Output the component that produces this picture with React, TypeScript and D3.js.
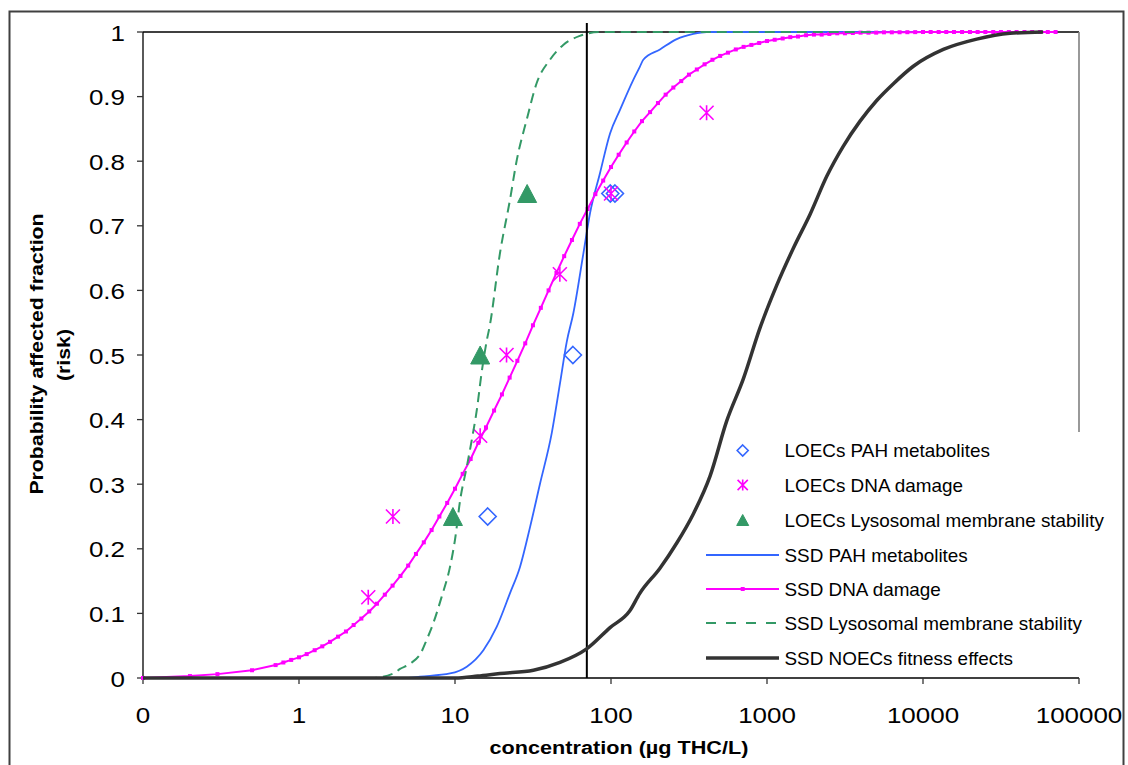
import React from 'react';
import * as d3 from 'd3';

// ---------- data ----------
const xTickValues = [0.1, 1, 10, 100, 1000, 10000, 100000];
const xTickLabels = ['0', '1', '10', '100', '1000', '10000', '100000'];
const yTickValues = [0, 0.1, 0.2, 0.3, 0.4, 0.5, 0.6, 0.7, 0.8, 0.9, 1];
const yTickLabels = ['0', '0.1', '0.2', '0.3', '0.4', '0.5', '0.6', '0.7', '0.8', '0.9', '1'];

const loecPah: [number, number][] = [[16.2, 0.25], [57, 0.5], [99, 0.75], [106, 0.75]];
const loecDna: [number, number][] = [[2.78, 0.125], [4.0, 0.25], [14.5, 0.375], [21.4, 0.5], [47, 0.625], [100, 0.75], [410, 0.875]];
const loecLyso: [number, number][] = [[9.7, 0.25], [14.5, 0.5], [29, 0.75]];

const ssdPah: [number, number][] = [
  [0.1, 0], [5, 0], [5.97, 0.002], [9.29, 0.007], [11.9, 0.0175], [15.2, 0.043], [18.5, 0.079],
  [22.5, 0.131], [26.1, 0.172], [30.3, 0.234], [35.1, 0.301], [41.7, 0.379], [47.1, 0.456],
  [52, 0.52], [57.4, 0.565], [66.5, 0.657], [73.3, 0.719], [84.9, 0.781], [98.6, 0.843],
  [114, 0.879], [139, 0.926], [153, 0.946], [161, 0.957], [206, 0.973], [264, 0.989],
  [337, 0.997], [410, 1], [10000, 1],
];

const ssdDna: [number, number][] = [
  [0.1, 0], [0.2, 0.003], [0.3, 0.006], [0.5, 0.012], [0.708, 0.02], [0.794, 0.024], [0.891, 0.028],
  [1, 0.032], [1.12, 0.037], [1.26, 0.043], [1.41, 0.049], [1.58, 0.056], [1.78, 0.064], [2, 0.072],
  [2.24, 0.082], [2.51, 0.092], [2.82, 0.103], [3.16, 0.115], [3.55, 0.129], [3.98, 0.143],
  [4.47, 0.158], [5.01, 0.174], [5.62, 0.192], [6.31, 0.21], [7.08, 0.229], [7.94, 0.25], [8.91, 0.271],
  [10, 0.293], [11.2, 0.316], [12.6, 0.339], [14.1, 0.364], [15.8, 0.388], [17.8, 0.414], [20, 0.439],
  [22.4, 0.465], [25.1, 0.491], [28.2, 0.518], [31.6, 0.546], [35.5, 0.573], [39.8, 0.6], [44.7, 0.627],
  [50.1, 0.653], [56.2, 0.678], [63.1, 0.703], [70.8, 0.726], [79.4, 0.749], [89.1, 0.77],
  [100, 0.791], [112, 0.81], [126, 0.829], [141, 0.846], [158, 0.862], [178, 0.876], [200, 0.89],
  [224, 0.903], [251, 0.914], [282, 0.924], [316, 0.934], [355, 0.942], [398, 0.95], [447, 0.957],
  [501, 0.963], [562, 0.968], [631, 0.973], [708, 0.977], [794, 0.98], [891, 0.983],
  [1000, 0.986], [1120, 0.988], [1260, 0.99], [1410, 0.992], [1580, 0.993], [1780, 0.995],
  [2000, 0.996], [2240, 0.996], [2510, 0.997], [2820, 0.998], [3160, 0.998], [3550, 0.9985],
  [3980, 0.999], [4470, 0.999], [5010, 0.999], [5620, 0.9995], [6310, 0.9995], [7080, 0.9996],
  [7940, 0.9997], [8910, 0.9998], [10000, 1], [11200, 1], [12600, 1], [14100, 1], [15800, 1],
  [17800, 1], [20000, 1], [22400, 1], [25100, 1], [28200, 1], [31600, 1], [35500, 1], [39800, 1],
  [44700, 1], [50100, 1], [56200, 1], [63100, 1], [70800, 1],
];

const ssdLyso: [number, number][] = [
  [0.1, 0], [2.92, 0], [4.03, 0.007], [4.44, 0.014], [5.15, 0.022], [6.11, 0.041], [6.58, 0.059],
  [7.26, 0.085], [8.22, 0.126], [9.29, 0.172], [10, 0.214], [10.8, 0.276], [11.9, 0.327],
  [12.8, 0.368], [13.8, 0.415], [14.8, 0.472], [16, 0.523], [16.7, 0.545], [19.4, 0.657],
  [22.5, 0.74], [24.9, 0.802], [28.8, 0.864], [33.4, 0.921], [40.6, 0.957], [49.4, 0.98],
  [63.2, 0.994], [84.9, 1], [5000, 1],
];

const ssdNoec: [number, number][] = [
  [0.1, 0], [10, 0], [14, 0.003], [19.4, 0.007], [31.8, 0.012], [47.1, 0.024], [69.8, 0.045],
  [98.6, 0.078], [132, 0.104], [153, 0.131], [206, 0.17], [264, 0.209], [337, 0.254], [432, 0.313],
  [552, 0.398], [705, 0.463], [902, 0.542], [1150, 0.607], [1480, 0.666], [1890, 0.718],
  [2420, 0.777], [3080, 0.823], [3950, 0.862], [5050, 0.894], [6460, 0.92], [8670, 0.947],
  [13500, 0.973], [22100, 0.989], [36100, 0.998], [58900, 1],
];

const referenceConc = 70;

const legendLabels = [
  'LOECs PAH metabolites',
  'LOECs DNA damage',
  'LOECs Lysosomal membrane stability',
  'SSD PAH metabolites',
  'SSD DNA damage',
  'SSD Lysosomal membrane stability',
  'SSD NOECs fitness effects',
];

// ---------- styles ----------
const BLUE = '#3366FF';
const MAGENTA = '#FF00FF';
const GREEN = '#339966';
const DARK = '#333333';
const FONT = "'Liberation Sans', Arial, Helvetica, sans-serif";

const W = 1128;
const H = 765;
const L = 143, R = 1079, T = 32, B = 678;

const x = d3.scaleLog().domain([0.1, 100000]).range([L, R]);
const y = d3.scaleLinear().domain([0, 1]).range([B, T]);

const line = d3.line<[number, number]>().x(d => x(d[0])).y(d => y(d[1]));
const smooth = d3.line<[number, number]>().x(d => x(d[0])).y(d => y(d[1])).curve(d3.curveMonotoneX);

function SText(props: { x: number; y: number; sx?: number; rot?: number; anchor?: string; size: number; weight?: string | number; children: React.ReactNode }) {
  const { sx = 1, rot = 0, anchor = 'start', size, weight = 'normal' } = props;
  return (
    <g transform={`translate(${props.x},${props.y}) rotate(${rot}) scale(${sx},1)`}>
      <text x={0} y={0} textAnchor={anchor as any} fontSize={size} fontWeight={weight} fontFamily={FONT} fill="#000">
        {props.children}
      </text>
    </g>
  );
}

function Diamond({ cx, cy, r }: { cx: number; cy: number; r: number }) {
  return <path d={`M${cx},${cy - r}L${cx + r},${cy}L${cx},${cy + r}L${cx - r},${cy}Z`} fill="none" stroke={BLUE} strokeWidth={1.6} />;
}
function Asterisk({ cx, cy, r }: { cx: number; cy: number; r: number }) {
  const d = r * 0.93;
  return (
    <path
      d={`M${cx - d},${cy - d}L${cx + d},${cy + d}M${cx + d},${cy - d}L${cx - d},${cy + d}M${cx},${cy - r}L${cx},${cy + r}`}
      stroke={MAGENTA} strokeWidth={1.6} fill="none"
    />
  );
}
function Triangle({ cx, cy, w, h }: { cx: number; cy: number; w: number; h: number }) {
  return <path d={`M${cx},${cy - h / 2}L${cx + w / 2},${cy + h / 2}L${cx - w / 2},${cy + h / 2}Z`} fill={GREEN} stroke={GREEN} strokeWidth={1} />;
}

export default function App() {
  const legendY = [450.5, 485, 520, 555, 589, 623, 658];
  const lx0 = 706, lx1 = 779, lmid = 742.7, ltext = 784.5;
  return (
    <svg width={W} height={H} style={{ position: 'absolute', left: 0, top: 0, display: 'block', background: '#fff' }}>
      <rect x={0} y={0} width={W} height={H} fill="#fff" />
      {/* outer chart border */}
      <rect x={9.5} y={11.5} width={1114} height={770} fill="none" stroke="#404040" strokeWidth={2} />

      {/* plot frame */}
      <line x1={L} x2={R} y1={T} y2={T} stroke="#000" strokeWidth={1.3} />
      <line x1={R} x2={R} y1={T} y2={432} stroke="#808080" strokeWidth={1.6} />
      <line x1={L} x2={L} y1={T} y2={B} stroke="#000" strokeWidth={1.3} />
      <line x1={L} x2={R} y1={B} y2={B} stroke="#000" strokeWidth={1.3} />

      {/* y ticks */}
      {yTickValues.map((v, i) => (
        <g key={'yt' + i}>
          <line x1={L - 6} x2={L} y1={y(v)} y2={y(v)} stroke="#333" strokeWidth={1.3} />
          <SText x={125} y={y(v) + 8.5} anchor="end" size={22} sx={1.18}>{yTickLabels[i]}</SText>
        </g>
      ))}
      {/* x ticks */}
      {xTickValues.map((v, i) => (
        <g key={'xt' + i}>
          <line x1={x(v)} x2={x(v)} y1={B} y2={B + 6} stroke="#333" strokeWidth={1.3} />
          <SText x={x(v)} y={723} anchor="middle" size={22} sx={1.18}>{xTickLabels[i]}</SText>
        </g>
      ))}

      {/* axis titles */}
      <SText x={619} y={754} anchor="middle" size={18.5} weight="bold" sx={1.17}>concentration (µg THC/L)</SText>
      <SText x={42.5} y={354} rot={-90} anchor="middle" size={18.5} weight="bold" sx={1.15}>Probability affected fraction</SText>
      <SText x={70} y={355} rot={-90} anchor="middle" size={18.5} weight="bold" sx={1.15}>(risk)</SText>

      {/* LOEC markers */}
      {loecPah.map((d, i) => <Diamond key={'pd' + i} cx={x(d[0])} cy={y(d[1])} r={8.5} />)}
      {loecDna.map((d, i) => <Asterisk key={'da' + i} cx={x(d[0])} cy={y(d[1])} r={7.5} />)}
      {loecLyso.map((d, i) => <Triangle key={'lt' + i} cx={x(d[0])} cy={y(d[1])} w={19} h={18} />)}

      {/* SSD curves */}
      <path d={smooth(ssdPah) || ''} fill="none" stroke={BLUE} strokeWidth={1.8} strokeLinejoin="round" />
      <path d={line(ssdDna) || ''} fill="none" stroke={MAGENTA} strokeWidth={2} strokeLinejoin="round" />
      {ssdDna.map((d, i) => (
        <rect key={'dm' + i} x={x(d[0]) - 2} y={y(d[1]) - 2} width={4} height={4} fill={MAGENTA} />
      ))}
      <path d={smooth(ssdLyso) || ''} fill="none" stroke={GREEN} strokeWidth={2} strokeDasharray="10 6" />

      {/* reference line */}
      <line x1={x(referenceConc)} x2={x(referenceConc)} y1={23} y2={B} stroke="#000" strokeWidth={2} />

      <path d={smooth(ssdNoec) || ''} fill="none" stroke={DARK} strokeWidth={3.5} strokeLinejoin="round" />

      {/* legend */}
      <Diamond cx={lmid} cy={legendY[0]} r={5.5} />
      <Asterisk cx={lmid} cy={legendY[1]} r={5.5} />
      <Triangle cx={lmid} cy={legendY[2]} w={12} h={11} />
      <line x1={lx0} x2={lx1} y1={legendY[3]} y2={legendY[3]} stroke={BLUE} strokeWidth={1.8} />
      <line x1={lx0} x2={lx1} y1={legendY[4]} y2={legendY[4]} stroke={MAGENTA} strokeWidth={2} />
      <rect x={lmid - 2} y={legendY[4] - 2} width={4} height={4} fill={MAGENTA} />
      <line x1={lx0} x2={lx1} y1={legendY[5]} y2={legendY[5]} stroke={GREEN} strokeWidth={2} strokeDasharray="10 10" />
      <line x1={lx0} x2={lx1} y1={legendY[6]} y2={legendY[6]} stroke={DARK} strokeWidth={3.5} />
      {legendLabels.map((t, i) => (
        <SText key={'lg' + i} x={ltext} y={legendY[i] + 6.5} size={18} sx={1.05}>{t}</SText>
      ))}
    </svg>
  );
}
